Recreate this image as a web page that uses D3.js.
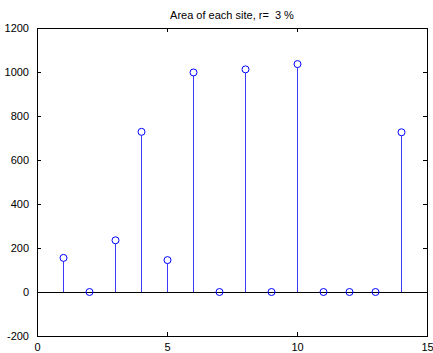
<!DOCTYPE html>
<html>
<head>
<meta charset="utf-8">
<script src="https://cdn.jsdelivr.net/npm/d3@7"></script>
<style>
  body { margin: 0; background: #fff; }
  text { font-family: "Liberation Sans", Arial, sans-serif; font-size: 11px; fill: #000; }
  .title { white-space: pre; }
</style>
</head>
<body>
<div id="chart"></div>
<script>
// site index and area per site
let sites = [1, 2, 3, 4, 5, 6, 7, 8, 9, 10, 11, 12, 13, 14];
let areas = [155, 0, 235, 728, 145, 998, 0, 1012, 0, 1036, 0, 0, 0, 726];
let xTicks = [0, 5, 10, 15];
let yTicks = [-200, 0, 200, 400, 600, 800, 1000, 1200];
let title = "Area of each site, r=  3 %";

let W = 433, H = 353;
let margin = { top: 28, right: 6, bottom: 17, left: 37 };
let width = W - margin.left - margin.right,
    height = H - margin.top - margin.bottom;

let svg = d3.select("#chart").append("svg")
  .attr("width", W)
  .attr("height", H);

let g = svg.append("g")
  .attr("transform", "translate(" + margin.left + "," + margin.top + ")");

let x = d3.scaleLinear().domain([0, 15]).range([0, width]);
let y = d3.scaleLinear().domain([-200, 1200]).range([height, 0]);

let plain = d => String(d);

// axes with inward ticks (matlab style)
let xAxis = d3.axisBottom(x).tickValues(xTicks).tickFormat(plain)
  .tickSizeInner(-4).tickSizeOuter(0).tickPadding(7);
let yAxis = d3.axisLeft(y).tickValues(yTicks).tickFormat(plain)
  .tickSizeInner(-4).tickSizeOuter(0).tickPadding(8);

g.append("g")
  .attr("transform", "translate(0," + height + ")")
  .call(xAxis);
g.append("g").call(yAxis);

// top and right ticks
g.append("g")
  .call(d3.axisTop(x).tickValues(xTicks).tickSizeInner(-4).tickSizeOuter(0).tickFormat(""));
g.append("g")
  .attr("transform", "translate(" + width + ",0)")
  .call(d3.axisRight(y).tickValues(yTicks).tickSizeInner(-4).tickSizeOuter(0).tickFormat(""));

g.selectAll(".domain").remove();
g.selectAll(".tick line").attr("stroke", "#000").style("shape-rendering", "crispEdges");
g.selectAll(".tick text").attr("fill", "#000");

// box
g.append("rect")
  .attr("x", 0).attr("y", 0)
  .attr("width", width).attr("height", height)
  .attr("fill", "none")
  .attr("stroke", "#000")
  .style("shape-rendering", "crispEdges");

// baseline
g.append("line")
  .attr("x1", 0).attr("x2", width)
  .attr("y1", y(0)).attr("y2", y(0))
  .attr("stroke", "#000")
  .style("shape-rendering", "crispEdges");

let data = sites.map((s, i) => ({ site: s, area: areas[i] }));

g.selectAll(".stem")
  .data(data.filter(d => d.area !== 0))
  .enter().append("line")
  .attr("class", "stem")
  .attr("x1", d => Math.round(x(d.site)) + 0.5).attr("x2", d => Math.round(x(d.site)) + 0.5)
  .attr("y1", y(0)).attr("y2", d => y(d.area) + 3.5)
  .attr("stroke", "#3b3bff")
  .attr("stroke-width", 1);

g.selectAll(".dot")
  .data(data)
  .enter().append("circle")
  .attr("class", "dot")
  .attr("cx", d => Math.round(x(d.site)) + 0.5)
  .attr("cy", d => y(d.area))
  .attr("r", 3.5)
  .attr("fill", "none")
  .attr("stroke", "#0000ff")
  .attr("stroke-width", 1);

svg.append("text")
  .attr("class", "title")
  .attr("x", margin.left + width / 2)
  .attr("y", 19)
  .attr("text-anchor", "middle")
  .text(title);
</script>
</body>
</html>
